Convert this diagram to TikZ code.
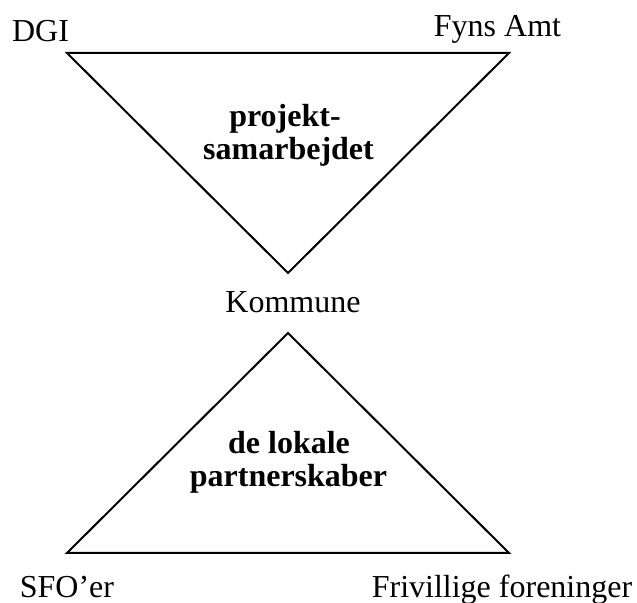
\documentclass[tikz,border=0pt]{standalone}
\usepackage{fontspec}
\setmainfont{Liberation Serif}
\usepackage{tikz}
\usetikzlibrary{calc,positioning}
\tikzstyle{party}     = [inner sep=0pt, anchor=base, font=\fontsize{16}{16}\selectfont]
\tikzstyle{group}     = [inner sep=0pt, anchor=base, font=\fontsize{16}{16}\selectfont\bfseries]
\tikzstyle{side}      = [line width=1pt, line join=miter]

\begin{document}
\begin{tikzpicture}[x=0.5pt,y=-0.5pt]
		\useasboundingbox (0,0) rectangle (637,603);

		% upper triangle
		\coordinate (dgi) at (67,53);
		\coordinate (amt) at (509,53);
		\coordinate (kom) at (288,273);
		\draw[side] (dgi) -- (amt) -- (kom) -- cycle;

		% lower triangle
		\coordinate (top) at (288,333);
		\coordinate (sfo) at (67,553);
		\coordinate (fri) at (509,553);
		\draw[side] (top) -- (fri) -- (sfo) -- cycle;

		\node[party] (dgitext) at (40.5,42) {DGI};
		\node[party] (amttext) at (497.5,37) {Fyns Amt};
		\node[party] (komtext) at (293,313) {Kommune};
		\node[party] (sfotext) at (67,597) {SFO’er};
		\node[party] (fritext) at (502,597) {Frivillige foreninger};

		\node[group] (proj1) at (285,127) {projekt-};
		\node[group] (proj2) at (288.5,160) {samarbejdet};
		\node[group] (lok1) at (289,454) {de lokale};
		\node[group] (lok2) at (288.5,487) {partnerskaber};
	\end{tikzpicture}
\end{document}
